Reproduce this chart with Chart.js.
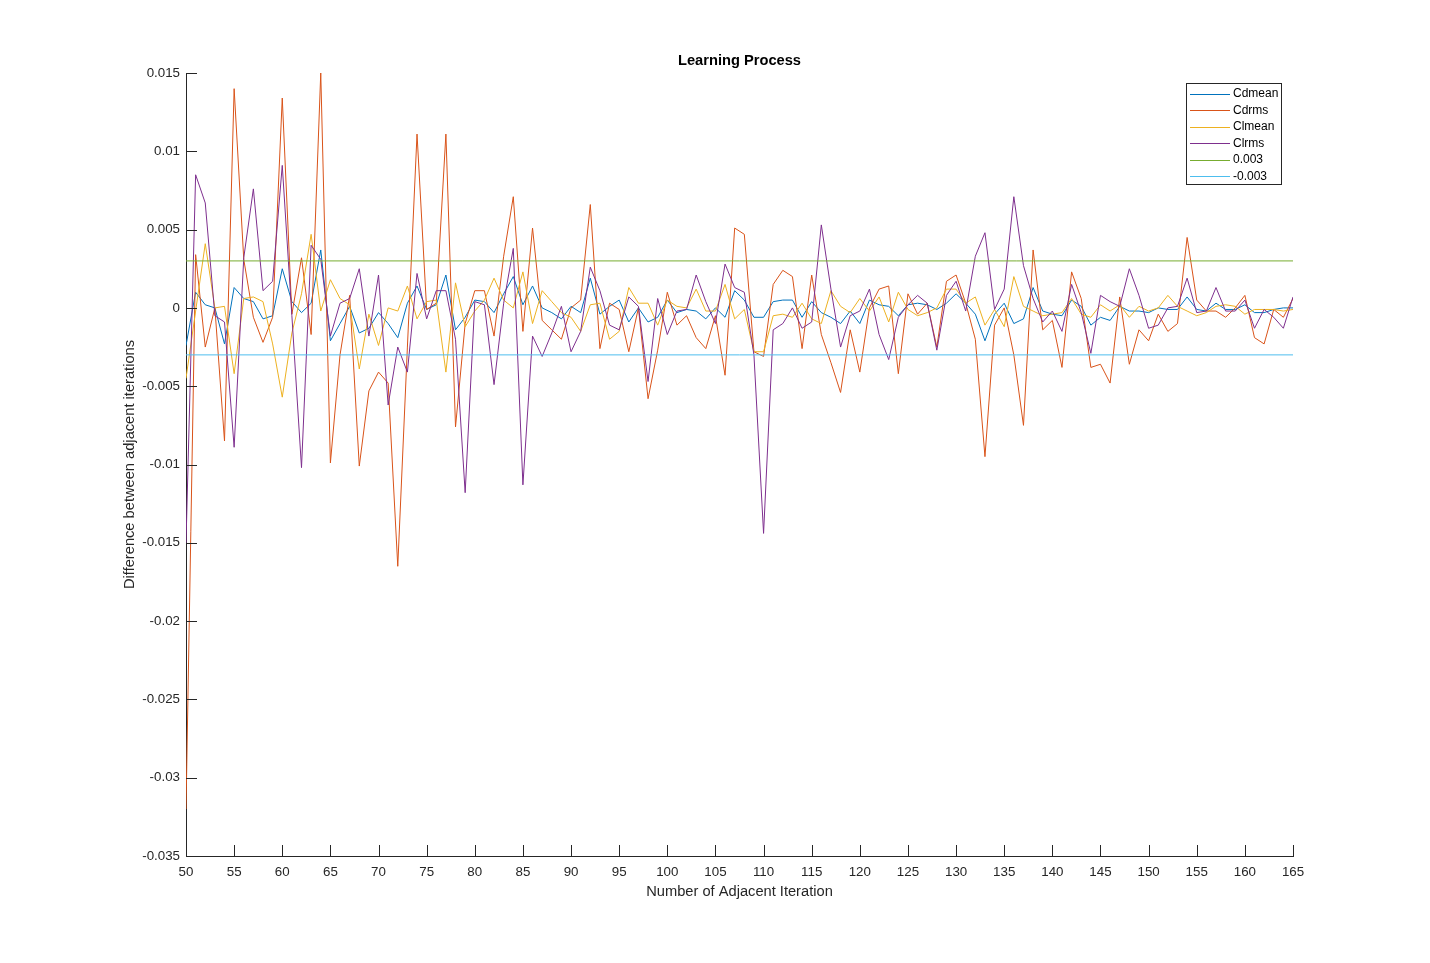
<!DOCTYPE html>
<html>
<head>
<meta charset="utf-8">
<script src="https://cdn.jsdelivr.net/npm/chart.js@4.4.1/dist/chart.umd.min.js"></script>
<style>
  html, body { margin: 0; padding: 0; background: #ffffff; }
  #wrap { width: 1430px; height: 963px; position: relative; }
</style>
</head>
<body>
<div id="wrap"><canvas id="c"></canvas></div>
<script>
// ---------------- data ----------------
const iterations = [];
for (let i = 50; i <= 165; i++) iterations.push(i);

const seriesNames = ['Cdmean', 'Cdrms', 'Clmean', 'Clrms', '0.003', '-0.003'];

const cdmean = [
  -0.0024, 0.0010, 0.0002, 0.0000, -0.0023, 0.0013, 0.0006, 0.0004, -0.0007, -0.0005,
  0.0025, 0.0004, -0.0003, 0.0003, 0.0037, -0.0021, -0.0010, 0.0001, -0.0016, -0.0013,
  -0.0003, -0.0010, -0.0019, 0.0003, 0.0014, -0.0001, 0.0002, 0.0021, -0.0014, -0.0006,
  0.0005, 0.0004, -0.0003, 0.0009, 0.0020, 0.0002, 0.0014, 0.0000, -0.0003, -0.0007,
  0.0001, -0.0003, 0.0019, -0.0004, 0.0001, 0.0005, -0.0009, 0.0000, -0.0009, -0.0006,
  0.0005, -0.0003, -0.0001, -0.0002, -0.0007, 0.0000, -0.0006, 0.0011, 0.0005, -0.0006,
  -0.0006, 0.0004, 0.0005, 0.0005, -0.0006, 0.0004, -0.0003, -0.0006, -0.0010, -0.0002,
  -0.0010, 0.0005, 0.0002, 0.0001, -0.0005, 0.0002, 0.0003, 0.0002, -0.0001, 0.0003,
  0.0009, 0.0003, -0.0004, -0.0021, -0.0004, 0.0003, -0.0010, -0.0007, 0.0013, -0.0002,
  -0.0004, -0.0005, 0.0005, 0.0001, -0.0011, -0.0006, -0.0008, 0.0001, -0.0002, -0.0002,
  -0.0003, 0.0000, -0.0001, -0.0001, 0.0007, -0.0001, -0.0002, 0.0003, -0.0001, -0.0001,
  0.0002, -0.0003, -0.0003, -0.0001, 0.0000, 0.0000
];

const cdrms = [
  -0.0320, 0.0034, -0.0025, 0.0000, -0.0085, 0.0140, 0.0031, -0.0006, -0.0022, -0.0006,
  0.0134, -0.0004, 0.0032, -0.0017, 0.0150, -0.0099, -0.0030, 0.0008, -0.0101, -0.0053,
  -0.0041, -0.0048, -0.0165, -0.0025, 0.0111, -0.0001, 0.0003, 0.0111, -0.0076, -0.0010,
  0.0011, 0.0011, -0.0018, 0.0033, 0.0071, -0.0015, 0.0051, -0.0008, -0.0014, -0.0020,
  0.0000, 0.0005, 0.0066, -0.0026, 0.0003, -0.0001, -0.0028, 0.0000, -0.0058, -0.0027,
  0.0010, -0.0011, -0.0005, -0.0019, -0.0026, -0.0005, -0.0043, 0.0051, 0.0047, -0.0028,
  -0.0031, 0.0015, 0.0024, 0.0020, -0.0026, 0.0021, -0.0017, -0.0035, -0.0054, -0.0014,
  -0.0041, 0.0000, 0.0012, 0.0014, -0.0042, 0.0009, -0.0004, 0.0003, -0.0025, 0.0017,
  0.0021, 0.0003, -0.0020, -0.0095, -0.0011, 0.0000, -0.0030, -0.0075, 0.0037, -0.0014,
  -0.0008, -0.0038, 0.0023, 0.0006, -0.0038, -0.0036, -0.0048, 0.0007, -0.0036, -0.0014,
  -0.0021, -0.0004, -0.0015, -0.0010, 0.0045, 0.0005, -0.0002, -0.0002, -0.0006, 0.0000,
  0.0008, -0.0019, -0.0023, -0.0001, -0.0006, 0.0006
];

const clmean = [
  -0.0045, -0.0002, 0.0041, 0.0000, 0.0001, -0.0042, 0.0006, 0.0007, 0.0004, -0.0023,
  -0.0057, -0.0016, 0.0009, 0.0047, -0.0002, 0.0018, 0.0006, 0.0002, -0.0039, -0.0004,
  -0.0024, 0.0000, -0.0002, 0.0014, -0.0007, 0.0004, 0.0005, -0.0041, 0.0016, -0.0012,
  -0.0002, 0.0005, 0.0019, 0.0005, 0.0000, 0.0023, -0.0010, 0.0011, 0.0004, -0.0003,
  -0.0006, -0.0015, 0.0002, 0.0003, -0.0020, -0.0015, 0.0013, 0.0003, 0.0003, -0.0011,
  0.0005, 0.0001, 0.0000, 0.0012, -0.0002, -0.0002, 0.0015, -0.0007, -0.0001, -0.0028,
  -0.0028, -0.0005, -0.0004, -0.0006, 0.0003, -0.0007, -0.0010, 0.0011, 0.0001, -0.0003,
  0.0006, -0.0002, 0.0007, -0.0009, 0.0010, -0.0001, -0.0005, -0.0003, 0.0000, 0.0012,
  0.0012, 0.0003, 0.0007, -0.0011, -0.0001, -0.0012, 0.0020, 0.0001, -0.0002, -0.0005,
  -0.0004, -0.0003, 0.0006, -0.0004, -0.0006, 0.0002, -0.0002, 0.0002, -0.0006, 0.0001,
  -0.0002, 0.0000, 0.0008, 0.0001, -0.0002, -0.0005, -0.0003, 0.0001, 0.0002, 0.0001,
  -0.0004, -0.0001, -0.0001, -0.0001, -0.0002, -0.0001
];

const clrms = [
  -0.0150, 0.0085, 0.0067, -0.0005, -0.0009, -0.0089, 0.0032, 0.0076, 0.0011, 0.0017,
  0.0091, -0.0005, -0.0102, 0.0040, 0.0031, -0.0018, 0.0003, 0.0006, 0.0025, -0.0018,
  0.0021, -0.0062, -0.0025, -0.0041, 0.0022, -0.0007, 0.0011, 0.0011, -0.0020, -0.0118,
  0.0004, 0.0002, -0.0049, 0.0003, 0.0038, -0.0113, -0.0018, -0.0031, -0.0016, 0.0001,
  -0.0028, -0.0015, 0.0026, 0.0011, -0.0011, -0.0014, 0.0007, 0.0001, -0.0047, 0.0006,
  -0.0017, -0.0002, -0.0001, 0.0021, 0.0004, -0.0010, 0.0028, 0.0013, 0.0010, -0.0030,
  -0.0144, -0.0014, -0.0010, 0.0000, -0.0013, -0.0009, 0.0053, 0.0012, -0.0025, -0.0005,
  -0.0002, 0.0012, -0.0017, -0.0033, -0.0006, 0.0002, 0.0008, 0.0003, -0.0027, 0.0008,
  0.0017, -0.0002, 0.0033, 0.0048, -0.0001, 0.0012, 0.0071, 0.0027, 0.0006, -0.0009,
  -0.0002, -0.0015, 0.0015, -0.0003, -0.0029, 0.0008, 0.0004, 0.0001, 0.0025, 0.0008,
  -0.0013, -0.0011, 0.0000, 0.0001, 0.0019, -0.0003, -0.0002, 0.0013, -0.0002, -0.0002,
  0.0005, -0.0013, -0.0001, -0.0006, -0.0013, 0.0007
];

const thresholdUpper = 0.003;
const thresholdLower = -0.003;

const xTicks = [50, 55, 60, 65, 70, 75, 80, 85, 90, 95, 100, 105, 110, 115, 120, 125, 130, 135, 140, 145, 150, 155, 160, 165];
const xTickLabels = ['50', '55', '60', '65', '70', '75', '80', '85', '90', '95', '100', '105', '110', '115', '120', '125', '130', '135', '140', '145', '150', '155', '160', '165'];
const yTicks = [-0.035, -0.03, -0.025, -0.02, -0.015, -0.01, -0.005, 0, 0.005, 0.01, 0.015];
const yTickLabels = ['-0.035', '-0.03', '-0.025', '-0.02', '-0.015', '-0.01', '-0.005', '0', '0.005', '0.01', '0.015'];

const seriesColors = ['#0072BD', '#D95319', '#EDB120', '#7E2F8E', '#77AC30', '#4DBEEE'];

// ---------------- build ----------------
function toPoints(vals) { return vals.map((v, i) => ({ x: iterations[i], y: v })); }
function hLine(v) { return [{ x: iterations[0], y: v }, { x: iterations[iterations.length - 1], y: v }]; }

const seriesData = [toPoints(cdmean), toPoints(cdrms), toPoints(clmean), toPoints(clrms), hLine(thresholdUpper), hLine(thresholdLower)];

const datasets = seriesData.map((d, i) => ({
  label: seriesNames[i],
  data: d,
  borderColor: seriesColors[i],
  backgroundColor: seriesColors[i],
  borderWidth: 1,
  pointRadius: 0,
  pointHoverRadius: 0,
  tension: 0,
  fill: false,
  order: seriesData.length - i
}));

const AX = '#262626';
const FONT = "'Liberation Sans', Arial, Helvetica, sans-serif";

const decorPlugin = {
  id: 'decor',
  afterDraw(chart) {
    const ctx = chart.ctx;
    const ca = chart.chartArea;
    const xs = chart.scales.x, ys = chart.scales.y;
    ctx.save();
    // inward ticks
    ctx.strokeStyle = AX;
    ctx.lineWidth = 1;
    ctx.beginPath();
    xs.ticks.forEach(t => {
      const px = Math.round(xs.getPixelForValue(t.value)) + 0.5;
      ctx.moveTo(px, ca.bottom);
      ctx.lineTo(px, ca.bottom - 11);
    });
    ys.ticks.forEach(t => {
      const py = Math.round(ys.getPixelForValue(t.value)) + 0.5;
      ctx.moveTo(ca.left, py);
      ctx.lineTo(ca.left + 11, py);
    });
    ctx.stroke();

    // title
    ctx.fillStyle = '#000000';
    ctx.font = "bold 14.67px " + FONT;
    ctx.textAlign = 'center';
    ctx.textBaseline = 'middle';
    ctx.fillText('Learning Process', (ca.left + ca.right) / 2, 61);

    // legend
    const bx = 1186.5, by = 83.5, bw = 95, bh = 101;
    ctx.fillStyle = '#ffffff';
    ctx.fillRect(bx, by, bw, bh);
    ctx.strokeStyle = AX;
    ctx.strokeRect(bx, by, bw, bh);
    ctx.font = "12px " + FONT;
    ctx.textAlign = 'left';
    ctx.textBaseline = 'middle';
    chart.data.datasets.forEach((ds, i) => {
      const ry = 93.5 + i * 16.5;
      ctx.strokeStyle = ds.borderColor;
      ctx.lineWidth = 1;
      ctx.beginPath();
      ctx.moveTo(1190, Math.round(ry) + 0.5);
      ctx.lineTo(1230, Math.round(ry) + 0.5);
      ctx.stroke();
      ctx.fillStyle = '#000000';
      ctx.fillText(ds.label, 1233, ry + 0.5);
    });
    ctx.restore();
  }
};

new Chart(document.getElementById('c'), {
  type: 'line',
  data: { datasets },
  options: {
    responsive: true,
    maintainAspectRatio: false,
    animation: false,
    devicePixelRatio: 1,
    layout: { padding: { left: 121, right: 137, top: 73, bottom: 62 } },
    plugins: {
      legend: { display: false },
      title: { display: false },
      tooltip: { enabled: false }
    },
    events: [],
    scales: {
      x: {
        type: 'linear',
        min: 50,
        max: 165,
        afterBuildTicks(scale) { scale.ticks = xTicks.map(v => ({ value: v })); },
        afterFit(scale) { scale.height = 45; },
        ticks: {
          autoSkip: false,
          maxRotation: 0,
          padding: 8,
          color: AX,
          font: { family: FONT, size: 13.33 },
          callback: (v, i) => xTickLabels[i]
        },
        grid: { display: true, drawOnChartArea: false, drawTicks: false },
        border: { display: true, color: AX, width: 1 },
        title: {
          display: true,
          text: 'Number of Adjacent Iteration',
          color: AX,
          padding: 0,
          font: { family: FONT, size: 14.67 }
        }
      },
      y: {
        type: 'linear',
        min: -0.035,
        max: 0.015,
        afterBuildTicks(scale) { scale.ticks = yTicks.map(v => ({ value: v })); },
        afterFit(scale) { scale.width = 65; },
        ticks: {
          autoSkip: false,
          padding: 6,
          color: AX,
          font: { family: FONT, size: 13.33 },
          callback: (v, i) => yTickLabels[i]
        },
        grid: { display: true, drawOnChartArea: false, drawTicks: false },
        border: { display: true, color: AX, width: 1 },
        title: {
          display: true,
          text: 'Difference between adjacent iterations',
          color: AX,
          padding: 0,
          font: { family: FONT, size: 14.67 }
        }
      }
    }
  },
  plugins: [decorPlugin]
});
</script>
</body>
</html>
